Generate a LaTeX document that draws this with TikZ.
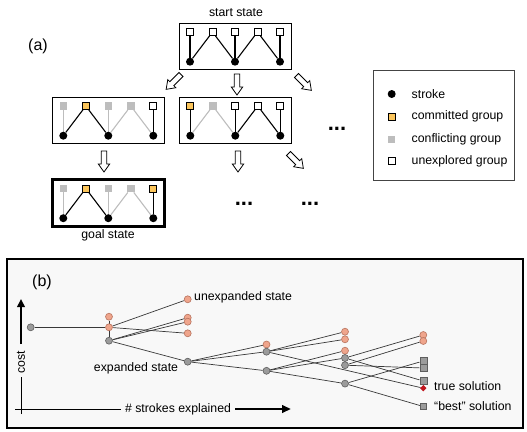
\documentclass[tikz,border=0pt]{standalone}
\usepackage{fontspec}
\setmainfont{Liberation Sans}
\usetikzlibrary{arrows.meta}
\pgfdeclarelayer{back}
\pgfdeclarelayer{edges}
\pgfsetlayers{back,edges,main}

\definecolor{commitfill}{HTML}{FBC55B}
\definecolor{conflictgray}{HTML}{BDBDBD}
\definecolor{openfill}{HTML}{EFA58C}
\definecolor{openline}{HTML}{B8735E}
\definecolor{donefill}{HTML}{9B9B9B}
\definecolor{doneline}{HTML}{5E5E5E}
\definecolor{panelbg}{HTML}{F8F8F8}
\definecolor{truered}{HTML}{C0141C}
\definecolor{legendline}{HTML}{444444}

% five groups over three strokes, placed in the current scope
\newcommand{\groupsrow}[6]{%
  \node[#2] (#1g1) at (0,0) {};
  \node[#3] (#1g2) at (22.5,0) {};
  \node[#4] (#1g3) at (45,0) {};
  \node[#5] (#1g4) at (67.5,0) {};
  \node[#6] (#1g5) at (90,0) {};
  \node[stroke] (#1s1) at (0,29.7) {};
  \node[stroke] (#1s2) at (45,29.7) {};
  \node[stroke] (#1s3) at (90,29.7) {};
}
% links between the groups and the strokes they cover
\newcommand{\grouplinks}[8]{%
  \begin{pgfonlayer}{edges}
  \draw[#2] (#1g1) -- (#1s1);
  \draw[#3] (#1g2) -- (#1s1);
  \draw[#4] (#1g2) -- (#1s2);
  \draw[#5] (#1g3) -- (#1s2);
  \draw[#6] (#1g4) -- (#1s2);
  \draw[#7] (#1g4) -- (#1s3);
  \draw[#8] (#1g5) -- (#1s3);
  \end{pgfonlayer}
}

\tikzset{
  unexplored/.style={rectangle, draw=black, line width=0.8pt, fill=white, minimum size=7pt, inner sep=0pt},
  committed/.style={unexplored, fill=commitfill},
  conflicting/.style={rectangle, fill=conflictgray, minimum size=7.5pt, inner sep=0pt},
  stroke/.style={circle, fill=black, minimum size=8pt, inner sep=0pt},
  link/.style={line width=1.1pt, black},
  faint/.style={line width=1.1pt, conflictgray},
  statebox/.style={draw, line width=1pt, minimum width=112pt, minimum height=46.5pt, inner sep=0pt},
  hollow arrow/.pic={\draw[line width=0.8pt, fill=white, line join=miter]
    (-2.8,0) -- (-2.8,13) -- (-5.7,13) -- (0,21) -- (5.7,13) -- (2.8,13) -- (2.8,0) -- cycle;},
  open/.style={circle, draw=openline, fill=openfill, line width=0.6pt, minimum size=7pt, inner sep=0pt},
  done/.style={circle, draw=doneline, fill=donefill, line width=0.6pt, minimum size=7pt, inner sep=0pt},
  final/.style={rectangle, draw=doneline, fill=donefill, line width=0.6pt, minimum size=7pt, inner sep=0pt},
  best/.style={final, minimum size=6pt},
  truth/.style={rectangle, rotate=45, fill=truered, minimum size=4.5pt, inner sep=0pt},
  edge/.style={draw=black!78, line width=0.7pt},
  label/.style={inner sep=0pt},
  ellipsis/.style={inner sep=0pt, anchor=base, font=\fontsize{22}{22}\selectfont\bfseries},
}

\begin{document}
\begin{tikzpicture}[x=1pt, y=-1pt, font=\fontsize{12.3}{14}\selectfont]
\useasboundingbox (0,0) rectangle (527,431);

% ---------------- (a) search over group assignments ----------------
\node[label, font=\fontsize{16}{18}\selectfont] (tagA) at (38,46.5) {(a)};

% start state
\begin{scope}[shift={(190,32)}]
  \node[statebox] (startbox) at (45,14.6) {};
  \groupsrow{st}{unexplored}{unexplored}{unexplored}{unexplored}{unexplored}
  \grouplinks{st}{link}{link}{link}{link}{link}{link}{link}
\end{scope}
\node[label] (startlbl) at (236,12.5) {start state};

% second row, left
\begin{scope}[shift={(63.3,106)}]
  \node[statebox] (leftbox) at (45,14.6) {};
  \groupsrow{lf}{conflicting}{committed}{conflicting}{conflicting}{unexplored}
  \grouplinks{lf}{faint}{link}{link}{faint}{faint}{faint}{link}
\end{scope}

% second row, right
\begin{scope}[shift={(190.3,106)}]
  \node[statebox] (rightbox) at (45,14.6) {};
  \groupsrow{rt}{committed}{conflicting}{unexplored}{unexplored}{unexplored}
  \grouplinks{rt}{link}{faint}{faint}{link}{link}{link}{link}
\end{scope}

% goal state
\begin{scope}[shift={(63.3,188.5)}]
  \node[statebox, line width=3pt] (goalbox) at (45,14.6) {};
  \groupsrow{gl}{conflicting}{committed}{conflicting}{conflicting}{committed}
  \grouplinks{gl}{faint}{link}{link}{faint}{faint}{faint}{link}
\end{scope}
\node[label] (goallbl) at (108,235) {goal state};

% expansion arrows
\pic at (237,74) {hollow arrow};
\pic[rotate=-45] at (181,74.5) {hollow arrow};
\pic[rotate=45] at (296.5,75.5) {hollow arrow};
\pic at (104,151) {hollow arrow};
\pic at (238,151) {hollow arrow};
\pic[rotate=45] at (288.5,153.5) {hollow arrow};

% more states not shown
\node[ellipsis] (moreA) at (337,130) {...};
\node[ellipsis] (moreB) at (244,205) {...};
\node[ellipsis] (moreC) at (310,205) {...};

% legend
\draw[legendline, line width=1pt] (373,70) rectangle (514,180);
\node[stroke] (keyS) at (391.7,94) {};
\node[committed] (keyC) at (391.7,116.7) {};
\node[conflicting] (keyX) at (391.7,139.3) {};
\node[unexplored] (keyU) at (391.7,161) {};
\node[label, anchor=west] (keySt) at (411.5,94) {stroke};
\node[label, anchor=west] (keyCt) at (411.5,116.7) {committed group};
\node[label, anchor=west] (keyXt) at (411.5,139.3) {conflicting group};
\node[label, anchor=west] (keyUt) at (411.5,161) {unexplored group};

% ---------------- (b) search tree over cost ----------------
\begin{pgfonlayer}{back}
  \draw[line width=2pt, fill=panelbg] (7,259) rectangle (523,428);
\end{pgfonlayer}
\node[label, font=\fontsize{16}{18}\selectfont] (tagB) at (42,282.5) {(b)};

% axes
\node[label, rotate=90] (costlbl) at (21,362) {cost};
\coordinate (costtop) at (21,299);
\coordinate (costbase) at (21,344);
\draw[line width=2.2pt, -{Triangle[length=8pt, width=7.5pt]}] (costbase) -- (costtop);
\coordinate (yaxislow) at (21,414);
\coordinate (yaxishigh) at (21,377);
\coordinate (xaxisleft) at (15,409);
\draw[line width=0.6pt] (yaxislow) -- (yaxishigh);
\node[label] (xlbl) at (178,409) {\# strokes explained};
\draw[line width=0.6pt] (xaxisleft) -- ([xshift=-4pt]xlbl.west);
\coordinate (xhead) at (291,409);
\draw[line width=2.2pt, -{Triangle[length=9pt, width=7.5pt]}] ([xshift=4pt]xlbl.east) -- (xhead);

% states
\node[done] (r) at (30.7,327.3) {};
\node[open] (o2a) at (109,316.7) {};
\node[open] (o2b) at (109,327.3) {};
\node[done] (g2) at (109,340.7) {};
\node[open] (u3) at (187.7,299.3) {};
\node[open] (o3a) at (187.7,317.7) {};
\node[open] (o3b) at (187.7,321.7) {};
\node[open] (o3c) at (187.7,333.3) {};
\node[done] (g3) at (187.7,361.7) {};
\node[open] (o4) at (266.5,344.5) {};
\node[done] (g4a) at (266.5,351.7) {};
\node[done] (g4b) at (266.5,370.8) {};
\node[open] (o5a) at (345,331.7) {};
\node[open] (o5b) at (345,339.3) {};
\node[open] (o5c) at (345,350.7) {};
\node[done] (g5a) at (345,358) {};
\node[done] (g5b) at (345,365.2) {};
\node[done] (g5c) at (345,383.6) {};
\node[open] (o6a) at (423.3,335) {};
\node[open] (o6b) at (423.3,341) {};
\node[final] (s6a) at (423.3,361) {};
\node[final] (s6b) at (423.3,368) {};
\node[final] (s6c) at (423.3,381) {};
\node[truth] (t6) at (423.3,388.2) {};
\node[best] (b6) at (423.3,406.5) {};

% search edges
\begin{pgfonlayer}{edges}
  \draw[edge] (r) -- (o2b);
  \draw[edge] (o2a) -- (g2);
  \draw[edge] (o2b) -- (u3);
  \draw[edge] (o2b) -- (o3c);
  \draw[edge] (g2) -- (o3a);
  \draw[edge] (g2) -- (o3b);
  \draw[edge] (g2) -- (g3);
  \draw[edge] (g3) -- (o4);
  \draw[edge] (g3) -- (g4a);
  \draw[edge] (g3) -- (g4b);
  \draw[edge] (g4a) -- (o5a);
  \draw[edge] (g4a) -- (o5b);
  \draw[edge] (g4a) -- (t6);
  \draw[edge] (g4b) -- (o5c);
  \draw[edge] (g4b) -- (g5a);
  \draw[edge] (g4b) -- (g5c);
  \draw[edge] (g5a) -- (o6a);
  \draw[edge] (g5b) -- (o6b);
  \draw[edge] (g5a) -- (s6c);
  \draw[edge] (g5b) -- (s6b);
  \draw[edge] (g5c) -- (s6a);
  \draw[edge] (g5c) -- (b6);
\end{pgfonlayer}

% state annotations
\node[label, anchor=west] (unexplbl) at (194,297.5) {unexpanded state};
\node[label] (explbl) at (136,368) {expanded state};
\node[label, anchor=west] (truelbl) at (434,386.5) {true solution};
\node[label, anchor=west] (bestlbl) at (434,406.5) {“best” solution};
\end{tikzpicture}
\end{document}
